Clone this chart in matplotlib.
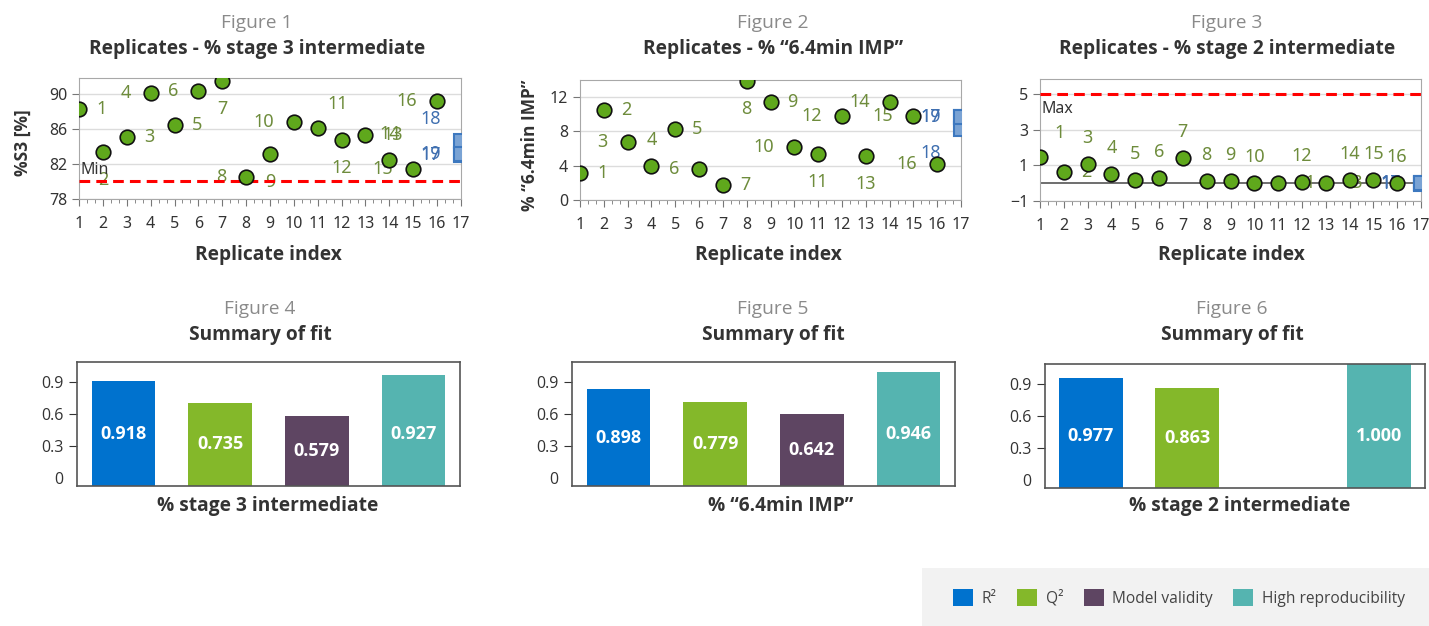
import matplotlib.pyplot as plt
import numpy as np
from matplotlib.patches import Patch, Rectangle
from matplotlib.ticker import AutoMinorLocator

plt.rcParams['font.family'] = ['Open Sans', 'DejaVu Sans']

W, H = 1429, 626

# replicate plots (figures 1-3)
rep_index = list(range(1, 17))
s3_values = [88.25, 83.4, 85.1, 90.1, 86.4, 90.3, 91.5, 80.5, 83.1, 86.8, 86.1, 84.7, 85.3, 82.5, 81.4, 89.2]
imp_values = [3.13, 10.5, 6.8, 3.9, 8.26, 3.63, 1.7, 13.8, 11.4, 6.2, 5.37, 9.77, 5.17, 11.4, 9.8, 4.2]
s2_values = [1.49, 0.61, 1.08, 0.52, 0.18, 0.31, 1.42, 0.12, 0.12, 0.03, 0.03, 0.09, 0.03, 0.18, 0.18, 0.03]

# centre points 17, 18, 19 (drawn at index 17)
center_labels = ['17', '18', '19']
s3_center = [83.0, 84.6, 83.1]
imp_center = [9.7, 8.2, 9.6]
s2_center = [0.0, -0.02, 0.02]

# summary of fit (figures 4-6)
fit_names = ['R²', 'Q²', 'Model validity', 'High reproducibility']
fit_colors = ['#0072ce', '#84b82a', '#5e4562', '#55b4b0']
s3_fit_height = [0.909, 0.706, 0.578, 0.962]
s3_fit_text = ['0.918', '0.735', '0.579', '0.927']
imp_fit_height = [0.83, 0.71, 0.597, 0.99]
imp_fit_text = ['0.898', '0.779', '0.642', '0.946']
s2_fit_height = [0.956, 0.8625, np.nan, 1.12]
s2_fit_text = ['0.977', '0.863', '', '1.000']

# label placement around each point
s3_place = ['r', 'b', 'r', 'l', 'r', 'l', 'b', 'l', 'b', 'l', 'ar', 'b', 'r', 'a', 'l', 'l']
imp_place = ['r', 'r', 'l', 'a', 'r', 'l', 'r', 'b', 'r', 'l', 'b', 'l', 'b', 'l', 'l', 'l']
s2_place = ['ar', 'r', 'a', 'a', 'a', 'a', 'a', 'a', 'a', 'a', 'r', 'a', 'r', 'a', 'a', 'a']
s3_center_place = ['l', 'al', 'l']
imp_center_place = ['l', 'bl', 'l']
s2_center_place = ['l', 'l', 'l']

OFFSETS = {
    'r': (17, 0, 'left'), 'l': (-20, 0, 'right'),
    'a': (0, 26, 'center'), 'b': (0, -28, 'center'),
    'ar': (20, 24, 'center'), 'al': (-20, 22, 'right'), 'bl': (-20, -24, 'right'),
}

GREEN = '#5fa81c'
LABEL_GREEN = '#6e8c3c'
BLUE_EDGE = '#3d78bf'
BLUE_FACE = '#7aa3d4'
DARK = '#333333'
NOTO = ['Noto Sans', 'DejaVu Sans']
TITLE_SIZE = 13.8

fig = plt.figure(figsize=(W / 100, H / 100), dpi=100)


def add_axes_px(l, t, r, b):
    return fig.add_axes([l / W, 1 - b / H, (r - l) / W, (b - t) / H])


def ftext(x, y, s, **kw):
    fig.text(x / W, 1 - y / H, s, ha='center', va='center', **kw)


def label_points(ax, xs, ys, names, places, color):
    for x, y, n, p in zip(xs, ys, names, places):
        dx, dy, ha = OFFSETS[p]
        ax.annotate(n, (x, y), xytext=(dx, dy), textcoords='offset pixels',
                    ha=ha, va='center', fontsize=13, color=color,
                    family=NOTO, zorder=2, annotation_clip=False)


def replicate_plot(box, values, place, center, center_place, ylim, yticks):
    ax = add_axes_px(*box)
    ax.set_xlim(1, 17)
    ax.set_ylim(*ylim)
    ax.set_xticks(range(1, 18))
    ax.xaxis.set_minor_locator(AutoMinorLocator(3))
    ax.set_yticks(yticks)
    ax.grid(axis='y', color='#dcdcdc', lw=1, zorder=0)
    ax.set_axisbelow(True)
    for s in ax.spines.values():
        s.set_color('#a8a8a8')
    ax.tick_params(which='both', color='#777777', labelsize=11.5, labelcolor=DARK)
    ax.tick_params(which='major', length=5)
    ax.tick_params(axis='x', which='major', pad=7)
    ax.tick_params(which='minor', length=3)
    for lab in ax.get_xticklabels() + ax.get_yticklabels():
        lab.set_family(NOTO)
    ax.plot([17] * len(center), center, 's', ms=10.5, mfc=BLUE_FACE, mec=BLUE_EDGE,
            mew=1.5, zorder=3)
    ax.plot(rep_index, values, 'o', ms=10.5, mfc=GREEN, mec='#111111', mew=1.2, zorder=4)
    label_points(ax, rep_index, values, [str(i) for i in rep_index], place, LABEL_GREEN)
    label_points(ax, [17] * len(center), center, center_labels, center_place, '#3f6fb0')
    return ax


ax1 = replicate_plot((79, 78, 461, 199), s3_values, s3_place, s3_center, s3_center_place,
                     (78, 91.8), [78, 82, 86, 90])
ax1.axhline(80, color='#ff0000', lw=2.2, dashes=(3.5, 2), zorder=3)
ax1.text(1.08, 80.35, 'Min', fontsize=11.5, color=DARK, family=NOTO,
         va='bottom', ha='left')

ax2 = replicate_plot((580, 80, 961, 200), imp_values, imp_place, imp_center, imp_center_place,
                     (0, 13.95), [0, 4, 8, 12])

ax3 = replicate_plot((1040, 79, 1421, 201), s2_values, s2_place, s2_center, s2_center_place,
                     (-1, 5.85), [-1, 1, 3, 5])
ax3.axhline(0, color='#555555', lw=1.2, zorder=1)
ax3.axhline(5, color='#ff0000', lw=2.2, dashes=(3.5, 2), zorder=3)
ax3.text(1.08, 4.6, 'Max', fontsize=11.5, color=DARK, family=NOTO,
         va='top', ha='left')

# titles, axis labels for the replicate plots
for cx, n, title in [(257, 1, 'Replicates - % stage 3 intermediate'),
                     (773, 2, 'Replicates - % “6.4min IMP”'),
                     (1227, 3, 'Replicates - % stage 2 intermediate')]:
    ftext(cx, 23, f'Figure {n}', fontsize=TITLE_SIZE, color='#8a8a8a')
    ftext(cx, 49, title, fontsize=TITLE_SIZE, color=DARK, fontweight='bold')
for cx in (268, 768, 1231):
    ftext(cx, 255, 'Replicate index', fontsize=TITLE_SIZE, color=DARK, fontweight='bold')
ftext(23, 143, '%S3 [%]', fontsize=12.5, color=DARK, fontweight='bold', rotation=90)
ftext(530, 145, '% “6.4min IMP”', fontsize=12.5, color=DARK, fontweight='bold', rotation=90)


# summary of fit bar charts
Y_MIN, Y_MAX = -0.075, 1.0875


def fit_plot(box, heights, texts, xlabel, cx, n):
    ax = add_axes_px(*box)
    x = np.arange(len(heights))
    h = np.array(heights, dtype=float)
    ax.bar(x, np.nan_to_num(h - Y_MIN), bottom=Y_MIN, width=0.66, color=fit_colors, zorder=2)
    for xi, hi, t in zip(x, h, texts):
        if t:
            ax.text(xi, min((hi + Y_MIN) / 2, 0.41), t, ha='center', va='center',
                    color='white', fontsize=13, fontweight='bold', zorder=3)
    ax.set_xlim(-0.48, 3.48)
    ax.set_ylim(Y_MIN, Y_MAX)
    ax.set_xticks([])
    ax.set_yticks([0, 0.3, 0.6, 0.9])
    ax.set_yticklabels(['0', '0.3', '0.6', '0.9'])
    ax.tick_params(axis='y', length=6, color=DARK, labelsize=11.5, labelcolor=DARK)
    ax.yaxis.get_major_ticks()[0].tick1line.set_visible(False)
    for s in ax.spines.values():
        s.set_color('#555555')
        s.set_linewidth(1.2)
    ftext(cx, 309, f'Figure {n}', fontsize=TITLE_SIZE, color='#8a8a8a')
    ftext(cx, 335, 'Summary of fit', fontsize=TITLE_SIZE, color=DARK, fontweight='bold')
    ftext(cx + 8, 506, xlabel, fontsize=TITLE_SIZE, color=DARK, fontweight='bold')
    return ax


fit_plot((77, 362, 460, 486), s3_fit_height, s3_fit_text, '% stage 3 intermediate', 260, 4)
fit_plot((572, 362, 955, 486), imp_fit_height, imp_fit_text, '% “6.4min IMP”', 773, 5)
fit_plot((1045, 364, 1425, 488), s2_fit_height, s2_fit_text, '% stage 2 intermediate', 1232, 6)

# legend panel
fig.patches.append(Rectangle((922 / W, 0), (W - 922) / W, 58 / H, transform=fig.transFigure,
                             facecolor='#f2f2f2', edgecolor='none', zorder=0))
handles = [Patch(facecolor=c, edgecolor='none') for c in fit_colors]
leg = fig.legend(handles, fit_names, loc='center', bbox_to_anchor=(1179 / W, 1 - 598 / H),
                 ncol=4, frameon=False, fontsize=11.2, handlelength=1.3, handleheight=1.3,
                 handletextpad=0.55, columnspacing=1.3)
for t in leg.get_texts():
    t.set_color('#444444')

fig.savefig('out.png', dpi=100)
